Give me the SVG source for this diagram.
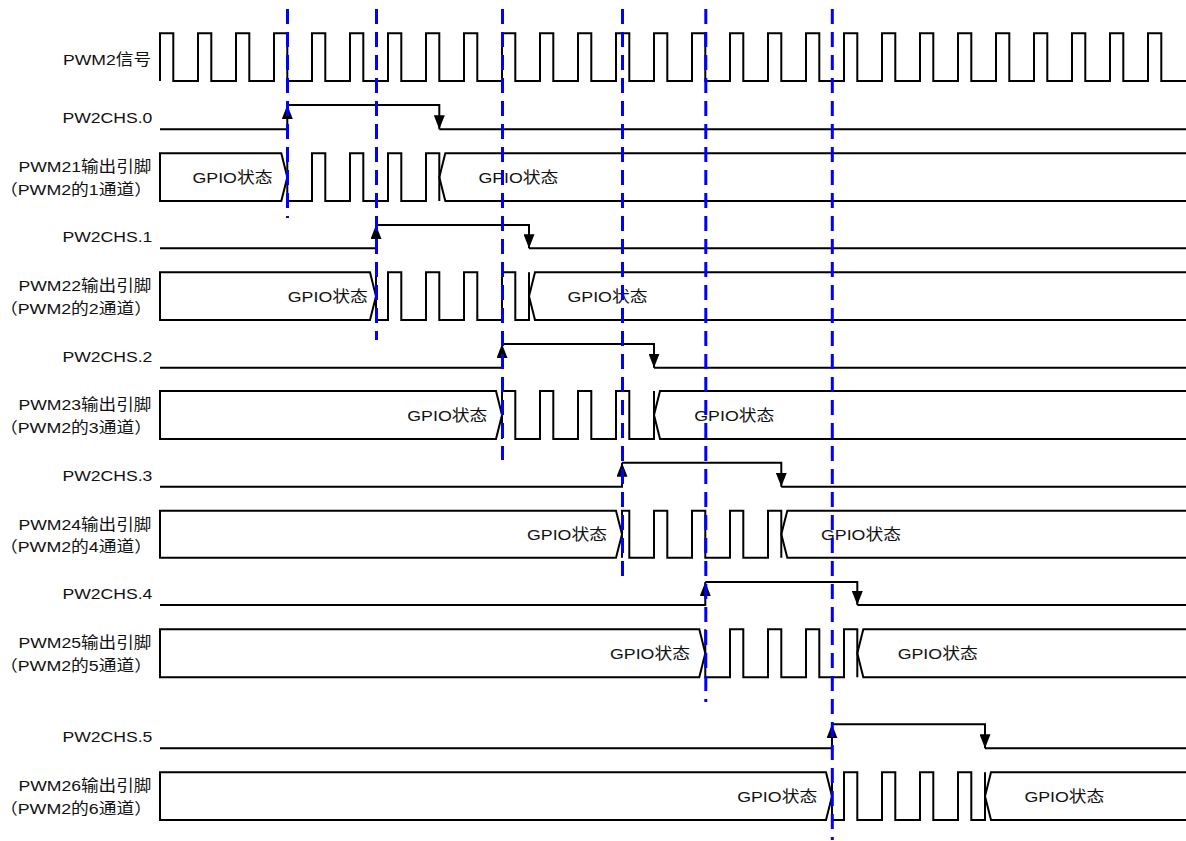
<svg xmlns="http://www.w3.org/2000/svg" width="1186" height="841" viewBox="0 0 1186 841">
<style>
.w{fill:none;stroke:#000;stroke-width:2}
.bus{fill:#fff;stroke:#000;stroke-width:2}
.busr{fill:none;stroke:#000;stroke-width:2}
.d{fill:none;stroke:#0000ff;stroke-width:3;stroke-dasharray:15 8}
.t{font-family:"Liberation Sans","Noto Sans CJK SC",sans-serif;font-size:15.5px;fill:#111}
</style>
<defs>
<marker id="ah" viewBox="0 0 14 11" refX="14" refY="5.5" markerWidth="14" markerHeight="11" markerUnits="userSpaceOnUse" orient="auto">
<path d="M0,0 L14,5.5 L0,11 z" fill="#000"/>
</marker>
</defs>
<rect width="1186" height="841" fill="#fff"/>

<g id="pwm2">
<text class="t" x="63" y="64.5" textLength="88" lengthAdjust="spacingAndGlyphs">PWM2信号</text>
<path class="w" d="M160,81 V33.3 H173.3 V81 H198 V33.3 H211.3 V81 H236 V33.3 H249.3 V81 H274 V33.3 H287.3 V81 H312 V33.3 H325.3 V81 H350 V33.3 H363.3 V81 H388 V33.3 H401.3 V81 H426 V33.3 H439.3 V81 H464 V33.3 H477.3 V81 H502 V33.3 H515.3 V81 H540 V33.3 H553.3 V81 H578 V33.3 H591.3 V81 H616 V33.3 H629.3 V81 H654 V33.3 H667.3 V81 H692 V33.3 H705.3 V81 H730 V33.3 H743.3 V81 H768 V33.3 H781.3 V81 H806 V33.3 H819.3 V81 H844 V33.3 H857.3 V81 H882 V33.3 H895.3 V81 H920 V33.3 H933.3 V81 H958 V33.3 H971.3 V81 H996 V33.3 H1009.3 V81 H1034 V33.3 H1047.3 V81 H1072 V33.3 H1085.3 V81 H1110 V33.3 H1123.3 V81 H1148 V33.3 H1161.3 V81 H1186"/>
</g>

<g id="chs-labels">
<text class="t" x="62.4" y="123.3" textLength="90" lengthAdjust="spacingAndGlyphs">PW2CHS.0</text>
<text class="t" x="62.4" y="242.3" textLength="90" lengthAdjust="spacingAndGlyphs">PW2CHS.1</text>
<text class="t" x="62.4" y="361.7" textLength="90" lengthAdjust="spacingAndGlyphs">PW2CHS.2</text>
<text class="t" x="62.4" y="480.7" textLength="90" lengthAdjust="spacingAndGlyphs">PW2CHS.3</text>
<text class="t" x="62.4" y="599" textLength="90" lengthAdjust="spacingAndGlyphs">PW2CHS.4</text>
<text class="t" x="62.4" y="742.3" textLength="90" lengthAdjust="spacingAndGlyphs">PW2CHS.5</text>
</g>

<g id="ch1">
<text class="t" x="18.4" y="172.3" textLength="133" lengthAdjust="spacingAndGlyphs">PWM21输出引脚</text>
<text class="t" x="0" y="194.8" textLength="152" lengthAdjust="spacingAndGlyphs">（PWM2的1通道）</text>
<polygon class="bus" points="160,153.3 281.3,153.3 287.3,177.2 281.3,201 160,201"/>
<polyline class="busr" points="1186,153.3 445.3,153.3 439.3,177.2 445.3,201 1186,201"/>
<path class="w" d="M287.3,153.3 V201 H312 V153.3 H325.3 V201 H350 V153.3 H363.3 V201 H388 V153.3 H401.3 V201 H426 V153.3 H439.3 V201"/>
<text class="t" x="192.5" y="182.7" textLength="80" lengthAdjust="spacingAndGlyphs">GPIO状态</text>
<text class="t" x="478.4" y="182.7" textLength="80" lengthAdjust="spacingAndGlyphs">GPIO状态</text>
</g>

<g id="ch2">
<text class="t" x="18.4" y="291.3" textLength="133" lengthAdjust="spacingAndGlyphs">PWM22输出引脚</text>
<text class="t" x="0" y="313.8" textLength="152" lengthAdjust="spacingAndGlyphs">（PWM2的2通道）</text>
<polygon class="bus" points="160,272.3 370,272.3 376,296.2 370,320 160,320"/>
<polyline class="busr" points="1186,272.3 535,272.3 529,296.2 535,320 1186,320"/>
<path class="w" d="M376,272.3 V320 H388 V272.3 H401.3 V320 H426 V272.3 H439.3 V320 H464 V272.3 H477.3 V320 H502 V272.3 H515.3 V320 H529 V272.3"/>
<text class="t" x="287.8" y="301.7" textLength="80" lengthAdjust="spacingAndGlyphs">GPIO状态</text>
<text class="t" x="567.5" y="301.7" textLength="80" lengthAdjust="spacingAndGlyphs">GPIO状态</text>
</g>

<g id="ch3">
<text class="t" x="18.4" y="410" textLength="133" lengthAdjust="spacingAndGlyphs">PWM23输出引脚</text>
<text class="t" x="0" y="432.5" textLength="152" lengthAdjust="spacingAndGlyphs">（PWM2的3通道）</text>
<polygon class="bus" points="160,391 496,391 502,415 496,439 160,439"/>
<polyline class="busr" points="1186,391 660,391 654,415 660,439 1186,439"/>
<path class="w" d="M502,439 V391 H515.3 V439 H540 V391 H553.3 V439 H578 V391 H591.3 V439 H616 V391 H629.3 V439 H654 V391"/>
<text class="t" x="407.3" y="420.5" textLength="80" lengthAdjust="spacingAndGlyphs">GPIO状态</text>
<text class="t" x="694.3" y="420.5" textLength="80" lengthAdjust="spacingAndGlyphs">GPIO状态</text>
</g>

<g id="ch4">
<text class="t" x="18.4" y="529.7" textLength="133" lengthAdjust="spacingAndGlyphs">PWM24输出引脚</text>
<text class="t" x="0" y="552.2" textLength="152" lengthAdjust="spacingAndGlyphs">（PWM2的4通道）</text>
<polygon class="bus" points="160,510.7 616,510.7 622,534.2 616,557.7 160,557.7"/>
<polyline class="busr" points="1186,510.7 787.3,510.7 781.3,534.2 787.3,557.7 1186,557.7"/>
<path class="w" d="M622,557.7 V510.7 H629.3 V557.7 H654 V510.7 H667.3 V557.7 H692 V510.7 H705.3 V557.7 H730 V510.7 H743.3 V557.7 H768 V510.7 H781.3 V557.7"/>
<text class="t" x="527" y="539.7" textLength="80" lengthAdjust="spacingAndGlyphs">GPIO状态</text>
<text class="t" x="821" y="539.7" textLength="80" lengthAdjust="spacingAndGlyphs">GPIO状态</text>
</g>

<g id="ch5">
<text class="t" x="18.4" y="648.3" textLength="133" lengthAdjust="spacingAndGlyphs">PWM25输出引脚</text>
<text class="t" x="0" y="670.8" textLength="152" lengthAdjust="spacingAndGlyphs">（PWM2的5通道）</text>
<polygon class="bus" points="160,629.3 699.3,629.3 705.3,653.3 699.3,677.3 160,677.3"/>
<polyline class="busr" points="1186,629.3 863.3,629.3 857.3,653.3 863.3,677.3 1186,677.3"/>
<path class="w" d="M705.3,629.3 V677.3 H730 V629.3 H743.3 V677.3 H768 V629.3 H781.3 V677.3 H806 V629.3 H819.3 V677.3 H844 V629.3 H857.3 V677.3"/>
<text class="t" x="610" y="658.8" textLength="80" lengthAdjust="spacingAndGlyphs">GPIO状态</text>
<text class="t" x="897.7" y="658.8" textLength="80" lengthAdjust="spacingAndGlyphs">GPIO状态</text>
</g>

<g id="ch6">
<text class="t" x="18.4" y="791.3" textLength="133" lengthAdjust="spacingAndGlyphs">PWM26输出引脚</text>
<text class="t" x="0" y="813.8" textLength="152" lengthAdjust="spacingAndGlyphs">（PWM2的6通道）</text>
<polygon class="bus" points="160,772.3 826,772.3 832,796.2 826,820 160,820"/>
<polyline class="busr" points="1186,772.3 991,772.3 985,796.2 991,820 1186,820"/>
<path class="w" d="M832,772.3 V820 H844 V772.3 H857.3 V820 H882 V772.3 H895.3 V820 H920 V772.3 H933.3 V820 H958 V772.3 H971.3 V820 H985 V772.3"/>
<text class="t" x="737.2" y="801.7" textLength="80" lengthAdjust="spacingAndGlyphs">GPIO状态</text>
<text class="t" x="1024.4" y="801.7" textLength="80" lengthAdjust="spacingAndGlyphs">GPIO状态</text>
</g>

<g id="connectors">
<path class="w" d="M160,129.3 H287.3 V105" marker-end="url(#ah)"/>
<path class="w" d="M287.3,105 H439.3 V129.3" marker-end="url(#ah)"/>
<path class="w" d="M439.3,129.3 H1186"/>
<path class="w" d="M160,248.3 H376 V225" marker-end="url(#ah)"/>
<path class="w" d="M376,225 H529 V248.3" marker-end="url(#ah)"/>
<path class="w" d="M529,248.3 H1186"/>
<path class="w" d="M160,367.7 H502 V344" marker-end="url(#ah)"/>
<path class="w" d="M502,344 H654 V367.7" marker-end="url(#ah)"/>
<path class="w" d="M654,367.7 H1186"/>
<path class="w" d="M160,486.7 H622 V462.7" marker-end="url(#ah)"/>
<path class="w" d="M622,462.7 H781.3 V486.7" marker-end="url(#ah)"/>
<path class="w" d="M781.3,486.7 H1186"/>
<path class="w" d="M160,605 H705.3 V582" marker-end="url(#ah)"/>
<path class="w" d="M705.3,582 H857.3 V605" marker-end="url(#ah)"/>
<path class="w" d="M857.3,605 H1186"/>
<path class="w" d="M160,748.3 H832 V724.3" marker-end="url(#ah)"/>
<path class="w" d="M832,724.3 H985 V748.3" marker-end="url(#ah)"/>
<path class="w" d="M985,748.3 H1186"/>
</g>

<g id="markers-dashed">
<line class="d" x1="287.5" y1="9" x2="287.5" y2="218"/>
<line class="d" x1="376.5" y1="9" x2="376.5" y2="340"/>
<line class="d" x1="502.5" y1="9" x2="502.5" y2="460"/>
<line class="d" x1="622.5" y1="9" x2="622.5" y2="581"/>
<line class="d" x1="705.8" y1="9" x2="705.8" y2="702"/>
<line class="d" x1="832.3" y1="9" x2="832.3" y2="840"/>
</g>
</svg>
